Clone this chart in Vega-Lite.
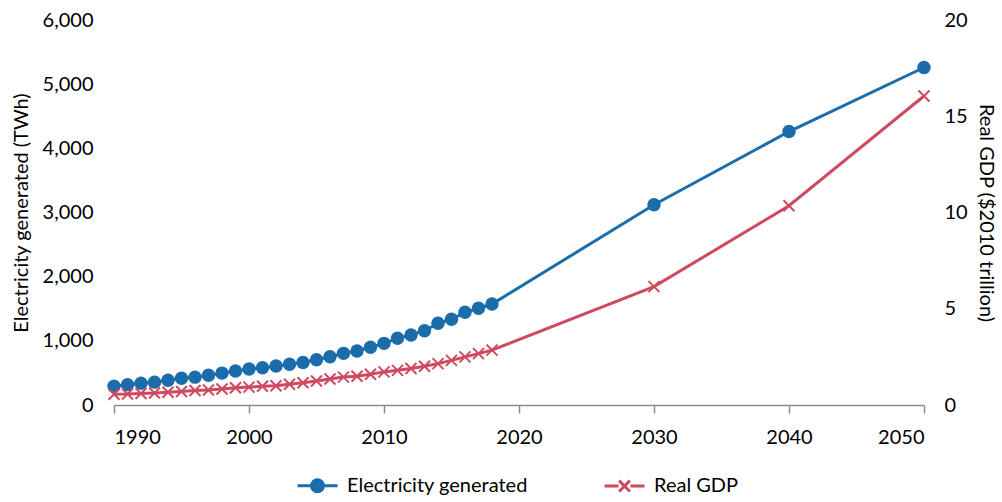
{
  "$schema": "https://vega.github.io/schema/vega-lite/v6.json",
  "width": 810,
  "height": 385,
  "autosize": {"type": "none"},
  "padding": {"left": 114, "top": 20, "right": 78, "bottom": 97},
  "config": {
    "font": "Lato",
    "view": {"stroke": null},
    "axis": {
      "grid": false,
      "labelFont": "Lato",
      "labelFontSize": 20,
      "labelColor": "#000000",
      "titleFont": "Lato",
      "titleFontSize": 20,
      "titleFontWeight": "normal",
      "titleColor": "#000000"
    },
    "legend": {"labelFont": "Lato", "labelFontSize": 20, "labelColor": "#000000", "labelLimit": 400}
  },
  "data": {
    "values": [
      {"year": 1990, "series": "Electricity generated", "value": 293},
      {"year": 1991, "series": "Electricity generated", "value": 317},
      {"year": 1992, "series": "Electricity generated", "value": 338},
      {"year": 1993, "series": "Electricity generated", "value": 356},
      {"year": 1994, "series": "Electricity generated", "value": 385},
      {"year": 1995, "series": "Electricity generated", "value": 417},
      {"year": 1996, "series": "Electricity generated", "value": 434},
      {"year": 1997, "series": "Electricity generated", "value": 463},
      {"year": 1998, "series": "Electricity generated", "value": 497},
      {"year": 1999, "series": "Electricity generated", "value": 530},
      {"year": 2000, "series": "Electricity generated", "value": 561},
      {"year": 2001, "series": "Electricity generated", "value": 581},
      {"year": 2002, "series": "Electricity generated", "value": 607},
      {"year": 2003, "series": "Electricity generated", "value": 634},
      {"year": 2004, "series": "Electricity generated", "value": 663},
      {"year": 2005, "series": "Electricity generated", "value": 705},
      {"year": 2006, "series": "Electricity generated", "value": 753},
      {"year": 2007, "series": "Electricity generated", "value": 805},
      {"year": 2008, "series": "Electricity generated", "value": 841},
      {"year": 2009, "series": "Electricity generated", "value": 899},
      {"year": 2010, "series": "Electricity generated", "value": 961},
      {"year": 2011, "series": "Electricity generated", "value": 1039},
      {"year": 2012, "series": "Electricity generated", "value": 1091},
      {"year": 2013, "series": "Electricity generated", "value": 1158},
      {"year": 2014, "series": "Electricity generated", "value": 1273},
      {"year": 2015, "series": "Electricity generated", "value": 1336},
      {"year": 2016, "series": "Electricity generated", "value": 1445},
      {"year": 2017, "series": "Electricity generated", "value": 1507},
      {"year": 2018, "series": "Electricity generated", "value": 1574},
      {"year": 2030, "series": "Electricity generated", "value": 3120},
      {"year": 2040, "series": "Electricity generated", "value": 4262},
      {"year": 2050, "series": "Electricity generated", "value": 5260},
      {"year": 1990, "series": "Real GDP", "value": 0.56},
      {"year": 1991, "series": "Real GDP", "value": 0.57},
      {"year": 1992, "series": "Real GDP", "value": 0.60},
      {"year": 1993, "series": "Real GDP", "value": 0.62},
      {"year": 1994, "series": "Real GDP", "value": 0.66},
      {"year": 1995, "series": "Real GDP", "value": 0.70},
      {"year": 1996, "series": "Real GDP", "value": 0.75},
      {"year": 1997, "series": "Real GDP", "value": 0.78},
      {"year": 1998, "series": "Real GDP", "value": 0.83},
      {"year": 1999, "series": "Real GDP", "value": 0.90},
      {"year": 2000, "series": "Real GDP", "value": 0.93},
      {"year": 2001, "series": "Real GDP", "value": 0.97},
      {"year": 2002, "series": "Real GDP", "value": 1.00},
      {"year": 2003, "series": "Real GDP", "value": 1.08},
      {"year": 2004, "series": "Real GDP", "value": 1.16},
      {"year": 2005, "series": "Real GDP", "value": 1.25},
      {"year": 2006, "series": "Real GDP", "value": 1.35},
      {"year": 2007, "series": "Real GDP", "value": 1.45},
      {"year": 2008, "series": "Real GDP", "value": 1.49},
      {"year": 2009, "series": "Real GDP", "value": 1.60},
      {"year": 2010, "series": "Real GDP", "value": 1.72},
      {"year": 2011, "series": "Real GDP", "value": 1.80},
      {"year": 2012, "series": "Real GDP", "value": 1.90},
      {"year": 2013, "series": "Real GDP", "value": 2.01},
      {"year": 2014, "series": "Real GDP", "value": 2.15},
      {"year": 2015, "series": "Real GDP", "value": 2.32},
      {"year": 2016, "series": "Real GDP", "value": 2.50},
      {"year": 2017, "series": "Real GDP", "value": 2.67},
      {"year": 2018, "series": "Real GDP", "value": 2.85},
      {"year": 2030, "series": "Real GDP", "value": 6.15},
      {"year": 2040, "series": "Real GDP", "value": 10.35},
      {"year": 2050, "series": "Real GDP", "value": 16.05}
    ]
  },
  "layer": [
    {
      "transform": [{"filter": "datum.series == 'Electricity generated'"}],
      "encoding": {
        "x": {
          "field": "year",
          "type": "quantitative",
          "scale": {"domain": [1990, 2050], "nice": false, "zero": false},
          "axis": {
            "title": null,
            "values": [1990, 2000, 2010, 2020, 2030, 2040, 2050],
            "format": "d",
            "tickSize": 8,
            "tickColor": "#8c8c8c",
            "tickWidth": 1.5,
            "domainColor": "#8c8c8c",
            "domainWidth": 1.5,
            "labelPadding": 14
          }
        },
        "y": {
          "field": "value",
          "type": "quantitative",
          "scale": {"domain": [0, 6000], "nice": false},
          "axis": {
            "title": "Electricity generated (TWh)",
            "values": [0, 1000, 2000, 3000, 4000, 5000, 6000],
            "format": ",d",
            "domain": false,
            "ticks": false,
            "labelPadding": 21,
            "titlePadding": 11
          }
        },
        "color": {
          "field": "series",
          "type": "nominal",
          "scale": {"domain": ["Electricity generated", "Real GDP"], "range": ["#1b6cab", "#cf4a60"]},
          "legend": {
            "title": null,
            "orient": "none",
            "direction": "horizontal",
            "legendX": 182,
            "legendY": 444,
            "symbolSize": 1600,
            "labelOffset": 8,
            "columnPadding": 70,
            "encode": {
              "symbols": {
                "update": {
                  "shape": {"signal": "datum.value == 'Real GDP' ? 'M-1,0L-0.3,0M0.3,0L1,0M-0.27,-0.27L0.27,0.27M-0.27,0.27L0.27,-0.27' : 'M-1,0L1,0M0.3,0A0.3,0.3,0,1,1,-0.3,0A0.3,0.3,0,1,1,0.3,0Z'"},
                  "fill": {"signal": "datum.value == 'Real GDP' ? 'transparent' : '#1b6cab'"},
                  "stroke": {"signal": "datum.value == 'Real GDP' ? '#cf4a60' : '#1b6cab'"},
                  "strokeWidth": {"value": 3},
                  "opacity": {"value": 1}
                }
              }
            }
          }
        }
      },
      "layer": [
        {"mark": {"type": "line", "strokeWidth": 3}},
        {"mark": {"type": "point", "shape": "circle", "filled": true, "size": 180, "opacity": 1}}
      ]
    },
    {
      "transform": [{"filter": "datum.series == 'Real GDP'"}],
      "encoding": {
        "x": {"field": "year", "type": "quantitative"},
        "y": {
          "field": "value",
          "type": "quantitative",
          "scale": {"domain": [0, 20], "nice": false},
          "axis": {
            "orient": "right",
            "title": "Real GDP ($2010 trillion)",
            "values": [0, 5, 10, 15, 20],
            "domain": false,
            "ticks": false,
            "labelPadding": 20,
            "titlePadding": 8
          }
        },
        "color": {"field": "series", "type": "nominal"}
      },
      "layer": [
        {"mark": {"type": "line", "strokeWidth": 3}},
        {"mark": {"type": "point", "shape": "M-1,-1L1,1M-1,1L1,-1", "filled": false, "size": 121, "strokeWidth": 2, "opacity": 1}}
      ]
    }
  ],
  "resolve": {"scale": {"y": "independent"}}
}
